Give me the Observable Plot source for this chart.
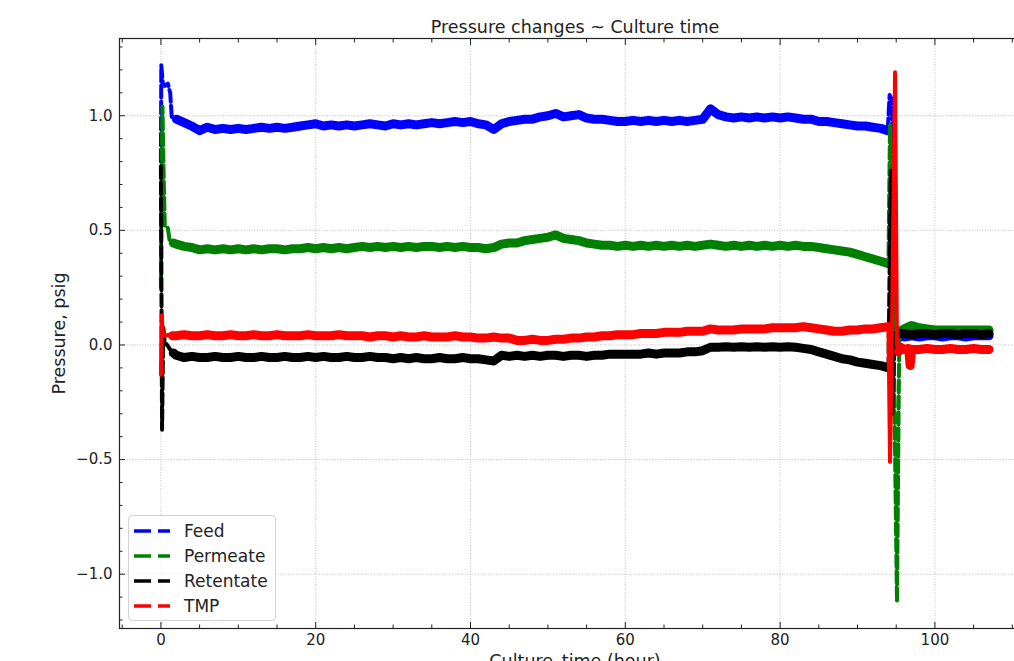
<!DOCTYPE html>
<html><head><meta charset="utf-8">
<script src="https://cdn.jsdelivr.net/npm/d3@7"></script>
<script src="https://cdn.jsdelivr.net/npm/@observablehq/plot@0.6"></script>
<style>
html,body{margin:0;padding:0;background:#fff;overflow:hidden;}
#wrap{position:relative;width:1014px;height:661px;overflow:hidden;background:#fff;}
#legend{position:absolute;left:128px;top:515px;width:148px;height:106px;box-sizing:border-box;border:1px solid #d3d3d3;border-radius:4px;background:rgba(255,255,255,0.8);font-family:"DejaVu Sans",sans-serif;font-size:17px;color:#222;}
.row{position:absolute;left:0;height:20px;display:flex;align-items:center;white-space:nowrap;}
.row svg{margin-left:5px;margin-right:14px;}
</style></head>
<body><div id="wrap"><div id="legend"></div></div>
<script>
// ---- text ----
const titleText = "Pressure changes ~ Culture time";
const xLabelText = "Culture_time (hour)";
const yLabelText = "Pressure, psig";

// ---- series ----
const seriesNames = ["Feed", "Permeate", "Retentate", "TMP"];
const seriesColors = ["#0000ff", "#008000", "#000000", "#ff0000"];

// ---- shared hourly time grid (hours 2..93) ----
const hourGrid = [2,3,4,5,6,7,8,9,10,11,12,13,14,15,16,17,18,19,20,21,22,23,24,25,26,27,28,29,30,31,
  32,33,34,35,36,37,38,39,40,41,42,43,44,45,46,47,48,49,50,51,52,53,54,55,56,57,58,59,60,61,
  62,63,64,65,66,67,68,69,70,71,72,73,74,75,76,77,78,79,80,81,82,83,84,85,86,87,88,89,90,91,92,93];

// ---- Feed ----
const feedHeadT = [0, 0.05, 0.25, 0.5, 0.9, 1.2, 1.4];
const feedHeadV = [0.80, 1.22, 1.14, 1.13, 1.14, 1.10, 0.995];
const feedHourly = [
  0.985,0.97,0.955,0.935,0.95,0.94,0.945,0.94,0.945,0.94,
  0.945,0.95,0.945,0.95,0.945,0.95,0.955,0.96,0.965,0.955,
  0.96,0.955,0.96,0.955,0.96,0.965,0.96,0.955,0.965,0.96,
  0.965,0.96,0.965,0.97,0.965,0.97,0.975,0.97,0.975,0.965,
  0.96,0.94,0.965,0.975,0.98,0.985,0.985,0.995,1.0,1.01,
  0.995,1.0,1.005,0.99,0.985,0.985,0.98,0.975,0.975,0.98,
  0.975,0.98,0.975,0.98,0.975,0.98,0.975,0.98,0.985,1.03,
  1.005,0.995,0.99,0.995,0.99,0.995,0.99,0.995,0.99,0.995,
  0.99,0.985,0.985,0.975,0.975,0.97,0.965,0.96,0.955,0.955,
  0.95,0.945];
const feedTailT = [93.9, 94.15, 94.45, 94.8, 95.3, 95.6, 96, 97, 98, 99, 100, 101, 102, 103, 104, 105, 106, 107];
const feedTailV = [0.935, 1.09, 1.07, 0.05, 0.03, 0.045, 0.035, 0.04, 0.035, 0.04, 0.04, 0.035, 0.04, 0.04, 0.035, 0.04, 0.04, 0.04];

// ---- Permeate ----
const permHeadT = [0, 0.1, 0.2, 0.35, 0.5, 0.9, 1.1, 1.6];
const permHeadV = [0.25, 0.75, 1.04, 0.75, 0.52, 0.51, 0.46, 0.445];
const permHourly = [
  0.44,0.43,0.425,0.415,0.42,0.415,0.42,0.415,0.42,0.415,
  0.42,0.415,0.42,0.42,0.415,0.42,0.42,0.425,0.42,0.425,
  0.42,0.425,0.42,0.425,0.43,0.425,0.43,0.425,0.43,0.425,
  0.43,0.425,0.43,0.43,0.425,0.43,0.425,0.43,0.425,0.425,
  0.42,0.425,0.44,0.445,0.445,0.455,0.46,0.465,0.47,0.48,
  0.465,0.46,0.455,0.445,0.44,0.435,0.435,0.43,0.435,0.43,
  0.435,0.43,0.435,0.43,0.435,0.43,0.435,0.43,0.435,0.44,
  0.435,0.43,0.435,0.43,0.435,0.43,0.435,0.43,0.435,0.43,
  0.435,0.43,0.43,0.425,0.42,0.415,0.41,0.405,0.395,0.385,
  0.375,0.365];
const permTailT = [94, 94.2, 94.5, 95.1, 95.4, 96, 97, 98, 99, 100, 101, 102, 103, 104, 105, 106, 107];
const permTailV = [0.355, 0.96, 0.45, -1.12, 0.06, 0.07, 0.085, 0.075, 0.07, 0.065, 0.065, 0.065, 0.065, 0.065, 0.065, 0.065, 0.065];

// ---- Retentate ----
const retHeadT = [0, 0.15, 0.3, 0.5, 0.8, 1.2, 1.6];
const retHeadV = [0.78, -0.37, 0.08, 0.01, 0.0, -0.02, -0.035];
const retHourly = [
  -0.045,-0.055,-0.05,-0.055,-0.055,-0.05,-0.055,-0.055,-0.05,-0.055,
  -0.055,-0.05,-0.055,-0.055,-0.05,-0.055,-0.055,-0.05,-0.055,-0.05,
  -0.055,-0.055,-0.05,-0.055,-0.055,-0.05,-0.055,-0.055,-0.06,-0.055,
  -0.06,-0.055,-0.06,-0.06,-0.055,-0.06,-0.06,-0.055,-0.06,-0.06,
  -0.065,-0.07,-0.045,-0.05,-0.045,-0.05,-0.045,-0.05,-0.045,-0.045,
  -0.05,-0.045,-0.045,-0.05,-0.045,-0.045,-0.04,-0.04,-0.04,-0.04,
  -0.04,-0.035,-0.04,-0.035,-0.035,-0.035,-0.03,-0.03,-0.025,-0.01,
  -0.01,-0.008,-0.01,-0.008,-0.01,-0.008,-0.01,-0.008,-0.01,-0.008,
  -0.01,-0.015,-0.02,-0.03,-0.04,-0.05,-0.06,-0.065,-0.075,-0.08,
  -0.085,-0.09];
const retTailT = [94, 94.3, 94.5, 94.8, 95.3, 96, 97, 98, 99, 100, 101, 102, 103, 104, 105, 106, 107];
const retTailV = [-0.1, 0.76, -0.3, 0.05, 0.05, 0.05, 0.045, 0.05, 0.05, 0.045, 0.05, 0.05, 0.045, 0.05, 0.05, 0.045, 0.05];

// ---- TMP ----
const tmpHeadT = [0, 0.1, 0.25, 0.6, 1.0, 1.5];
const tmpHeadV = [-0.13, 0.13, 0.05, 0.04, 0.045, 0.04];
const tmpHourly = [
  0.04,0.045,0.04,0.04,0.045,0.04,0.04,0.045,0.04,0.04,
  0.045,0.04,0.04,0.045,0.04,0.04,0.04,0.045,0.04,0.04,
  0.04,0.045,0.04,0.04,0.04,0.035,0.04,0.04,0.035,0.04,
  0.035,0.035,0.04,0.035,0.035,0.035,0.04,0.035,0.035,0.03,
  0.03,0.035,0.03,0.03,0.02,0.02,0.025,0.02,0.02,0.025,
  0.025,0.03,0.03,0.035,0.035,0.04,0.04,0.045,0.045,0.045,
  0.05,0.05,0.05,0.055,0.055,0.055,0.06,0.06,0.06,0.07,
  0.065,0.065,0.065,0.07,0.07,0.07,0.07,0.075,0.075,0.075,
  0.075,0.08,0.075,0.07,0.065,0.06,0.06,0.065,0.065,0.07,
  0.07,0.075];
const tmpTailT = [94, 94.2, 94.45, 94.85, 95.1, 95.3, 95.6, 96, 96.6, 96.8, 97, 98, 99, 100, 101, 102, 103, 104, 105, 106, 107];
const tmpTailV = [0.08, -0.51, 0.06, 1.19, 0.0, -0.03, -0.01, -0.02, -0.015, -0.09, -0.02, -0.02, -0.015, -0.02, -0.02, -0.015, -0.02, -0.02, -0.015, -0.02, -0.02];

// ---- ticks ----
const xMajorTicks = [0, 20, 40, 60, 80, 100];
const yMajorTicks = [-1.0, -0.5, 0.0, 0.5, 1.0];

// ---- assemble rows ----
const parts = [
  [feedHeadT, feedHeadV, feedHourly, feedTailT, feedTailV],
  [permHeadT, permHeadV, permHourly, permTailT, permTailV],
  [retHeadT, retHeadV, retHourly, retTailT, retTailV],
  [tmpHeadT, tmpHeadV, tmpHourly, tmpTailT, tmpTailV]
];
const isFlat = t => (t >= 1.5 && t <= 94.0) || t >= 95.3;
const seriesRows = parts.map(([hT, hV, hourly, tT, tV], i) => {
  const rows = [];
  hT.forEach((t, j) => rows.push({t, v: hV[j]}));
  hourGrid.forEach((t, j) => rows.push({t, v: hourly[j]}));
  tT.forEach((t, j) => rows.push({t, v: tV[j]}));
  rows.forEach(r => { r.series = seriesNames[i]; r.band = isFlat(r.t) ? r.v : NaN; });
  return rows;
});

const allRows = seriesRows.flat();
const [tMin, tMax] = d3.extent(allRows, d => d.t);
const [vMin, vMax] = d3.extent(allRows, d => d.v);
const xPad = (tMax - tMin) * 0.05, yPad = (vMax - vMin) * 0.05;
const xDomain = [tMin - xPad, tMax + xPad];
const yDomain = [vMin - yPad, vMax + yPad];

const xMinor = d3.range(-5, 115, 5).filter(v => v >= xDomain[0] && v <= xDomain[1] && v % 20 !== 0);
const yMinor = d3.range(-12, 14).map(v => v / 10).filter(v => v >= yDomain[0] && v <= yDomain[1] && Math.abs(v * 2 - Math.round(v * 2)) > 1e-6);

const fmt = d => d.toFixed(1).replace("-", "\u2212");
const axisColor = "#222";

const lineMarks = [];
seriesRows.forEach((rows, i) => {
  const color = seriesColors[i];
  lineMarks.push(Plot.line(rows, {x: "t", y: "v", stroke: color, strokeWidth: 4, strokeLinejoin: "round",
    strokeDasharray: i === 3 ? null : "12,4"}));
  lineMarks.push(Plot.line(rows, {x: "t", y: "band", stroke: color, strokeWidth: 9, strokeLinejoin: "round", strokeLinecap: "round"}));
});

const gridStyle = {stroke: "#b0b0b0", strokeOpacity: 1, strokeWidth: 0.8, strokeDasharray: "1,1.6"};

const chart = Plot.plot({
  width: 1031, height: 661,
  marginLeft: 119, marginRight: 1, marginTop: 38, marginBottom: 33,
  x: {domain: xDomain},
  y: {domain: yDomain},
  style: {fontFamily: "'DejaVu Sans', sans-serif", fontSize: "15px", color: axisColor, background: "transparent", maxWidth: "none", overflow: "visible"},
  marks: [
    Plot.gridX(xMajorTicks, gridStyle),
    Plot.gridY(yMajorTicks, gridStyle),
    ...lineMarks,
    Plot.frame({stroke: axisColor, strokeWidth: 1.2}),
    Plot.axisX(xMajorTicks, {anchor: "bottom", tickSize: 0, tickPadding: 6, tickFormat: d => String(d), label: null, fontSize: 15}),
    Plot.axisX(xMajorTicks, {anchor: "bottom", tickSize: -6, tickFormat: () => "", label: null}),
    Plot.axisX(xMinor, {anchor: "bottom", tickSize: -3.5, tickFormat: () => "", label: null}),
    Plot.axisX(xMajorTicks, {anchor: "top", tickSize: -6, tickFormat: () => "", label: null}),
    Plot.axisX(xMinor, {anchor: "top", tickSize: -3.5, tickFormat: () => "", label: null}),
    Plot.axisY(yMajorTicks, {anchor: "left", tickSize: 0, tickPadding: 7, tickFormat: fmt, label: null, fontSize: 15}),
    Plot.axisY(yMajorTicks, {anchor: "left", tickSize: -6, tickFormat: () => "", label: null}),
    Plot.axisY(yMinor, {anchor: "left", tickSize: -3.5, tickFormat: () => "", label: null}),
    Plot.axisY(yMajorTicks, {anchor: "right", tickSize: -6, tickFormat: () => "", label: null}),
    Plot.axisY(yMinor, {anchor: "right", tickSize: -3.5, tickFormat: () => "", label: null}),
    Plot.text([titleText], {text: d => d, frameAnchor: "top", lineAnchor: "bottom", dy: -6, fontSize: 17.5}),
    Plot.text([xLabelText], {text: d => d, frameAnchor: "bottom", lineAnchor: "top", dy: 26, fontSize: 17.5}),
    Plot.text([yLabelText], {text: d => d, frameAnchor: "left", textAnchor: "middle", rotate: -90, dx: -60, fontSize: 17.5})
  ]
});
chart.style.maxWidth = "none";
chart.style.position = "absolute";
chart.style.left = "0px";
chart.style.top = "0px";
const wrap = document.getElementById("wrap");
wrap.insertBefore(chart, wrap.firstChild);

// ---- legend ----
const legend = document.getElementById("legend");
seriesNames.forEach((name, i) => {
  const row = document.createElement("div");
  row.className = "row";
  row.style.top = (4.5 + i * 25) + "px";
  const sw = d3.create("svg").attr("width", 36).attr("height", 20);
  sw.append("line").attr("x1", 0).attr("x2", 36).attr("y1", 10).attr("y2", 10)
    .attr("stroke", seriesColors[i]).attr("stroke-width", 3.5).attr("stroke-dasharray", "17,7");
  row.appendChild(sw.node());
  const label = document.createElement("span");
  label.textContent = name;
  row.appendChild(label);
  legend.appendChild(row);
});
</script></body></html>
